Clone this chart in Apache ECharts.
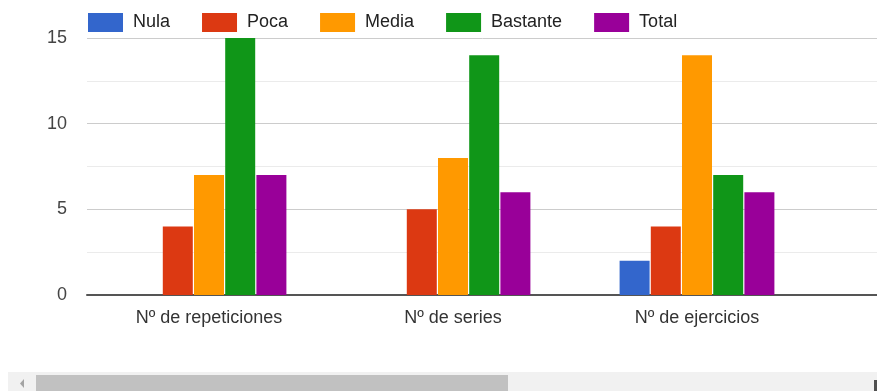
<!DOCTYPE html>
<html>
<head>
<meta charset="utf-8">
<script src="https://cdn.jsdelivr.net/npm/echarts@6/dist/echarts.min.js"></script>
<style>html,body{margin:0;padding:0;background:#fff;}#c{width:877px;height:391px;}</style>
</head>
<body>
<div id="c"></div>
<script>
// Categories (the fourth band lies beyond the visible, scrolled area)
const categories = ['N\u00ba de repeticiones', 'N\u00ba de series', 'N\u00ba de ejercicios', ''];
const seriesNames = ['Nula', 'Poca', 'Media', 'Bastante', 'Total'];
const nula     = [0, 0, 2, null];
const poca     = [4, 5, 4, null];
const media    = [7, 8, 14, null];
const bastante = [15, 14, 7, null];
const total    = [7, 6, 6, null];
const yTicks = [0, 5, 10, 15];

const colors = ['#3366cc', '#dc3912', '#ff9900', '#109618', '#990099'];
const values = [nula, poca, media, bastante, total];

const chart = echarts.init(document.getElementById('c'));
chart.setOption({
  animation: false,
  backgroundColor: '#fff',
  textStyle: { fontFamily: 'Liberation Sans, Arial, sans-serif' },
  legend: {
    left: 88, top: 13, padding: 0,
    itemWidth: 35, itemHeight: 19, itemGap: 32,
    icon: 'rect',
    textStyle: { fontSize: 18, color: '#222', padding: [0, 0, 0, 5] },
    data: seriesNames
  },
  grid: { left: 87, top: 38, width: 976, height: 257, outerBoundsMode: 'none', containLabel: false },
  xAxis: {
    type: 'category',
    data: categories,
    axisTick: { show: false },
    axisLine: { lineStyle: { color: '#555', width: 2 } },
    axisLabel: { fontSize: 18, color: '#333', margin: 14 }
  },
  yAxis: {
    type: 'value',
    min: yTicks[0], max: yTicks[yTicks.length - 1], interval: 5,
    axisLine: { show: false },
    axisTick: { show: false },
    axisLabel: { fontSize: 18, color: '#444', margin: 20 },
    splitLine: { lineStyle: { color: '#cccccc', width: 1 } },
    minorTick: { show: false, splitNumber: 2 },
    minorSplitLine: { show: true, lineStyle: { color: '#ebebeb', width: 1 } }
  },
  series: seriesNames.map((n, i) => ({
    name: n,
    type: 'bar',
    data: values[i],
    barWidth: 30,
    barGap: '4%',
    itemStyle: { color: colors[i] }
  })),
  graphic: [
    { type: 'rect', shape: { x: 8, y: 372, width: 869, height: 19 }, style: { fill: '#f1f1f1' }, silent: true },
    { type: 'rect', shape: { x: 36, y: 375, width: 472, height: 16 }, style: { fill: '#c1c1c1' }, silent: true },
    { type: 'polygon', shape: { points: [[24, 379], [24, 388], [20, 383.5]] }, style: { fill: '#a3a3a3' }, silent: true },
    { type: 'rect', shape: { x: 874, y: 380, width: 3, height: 11 }, style: { fill: '#505050' }, silent: true }
  ]
});
</script>
</body>
</html>
